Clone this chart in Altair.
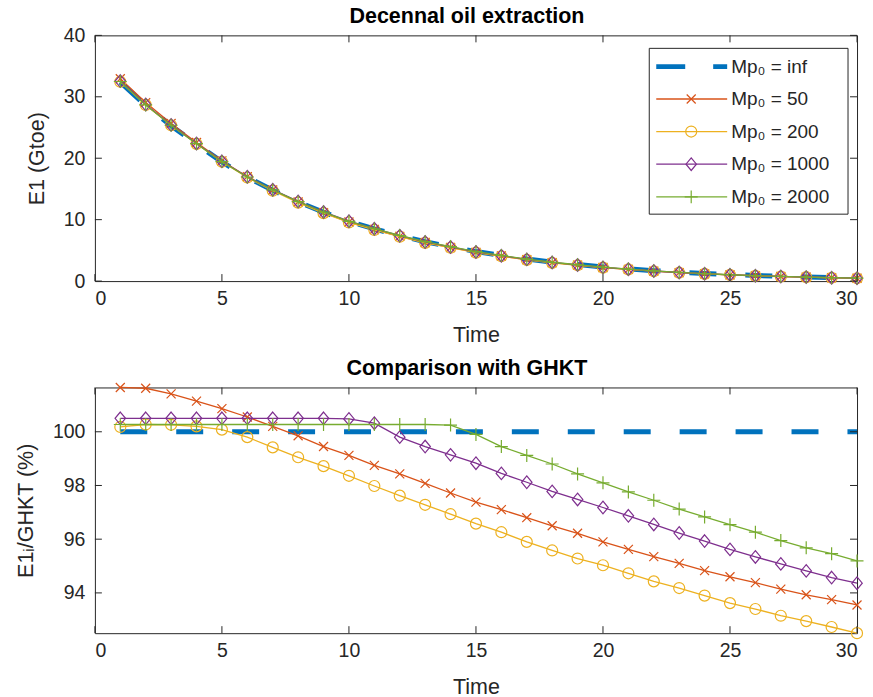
import altair as alt
import pandas as pd

# ---------------- data ----------------
time = list(range(1, 31))

# GHKT reference extraction (Mp0 = inf), Gtoe per decade
e1_ghkt = [32.4, 28.6, 25.3, 22.3, 19.4, 16.9, 14.8, 12.9, 11.2, 9.7,
           8.5, 7.4, 6.4, 5.6, 4.8, 4.2, 3.6, 3.1, 2.7, 2.3,
           2.0, 1.7, 1.45, 1.25, 1.07, 0.92, 0.79, 0.68, 0.58, 0.5]

# ratio to GHKT (%)
ratio_inf = [100.0] * 30
ratio_50 = [101.65, 101.62, 101.41, 101.14, 100.86, 100.55, 100.2, 99.85, 99.45, 99.12,
            98.75, 98.43, 98.08, 97.72, 97.38, 97.1, 96.8, 96.5, 96.22, 95.9,
            95.62, 95.35, 95.1, 94.83, 94.6, 94.38, 94.14, 93.93, 93.75, 93.55]
ratio_200 = [100.18, 100.27, 100.26, 100.2, 100.08, 99.8, 99.42, 99.05, 98.72, 98.36,
             97.98, 97.62, 97.28, 96.93, 96.58, 96.26, 95.9, 95.58, 95.28, 95.03,
             94.73, 94.43, 94.18, 93.9, 93.62, 93.4, 93.15, 92.95, 92.73, 92.5]
ratio_1000 = [100.5, 100.5, 100.5, 100.5, 100.5, 100.5, 100.5, 100.5, 100.5, 100.48,
              100.32, 99.8, 99.45, 99.14, 98.83, 98.45, 98.12, 97.78, 97.48, 97.18,
              96.87, 96.55, 96.23, 95.93, 95.62, 95.34, 95.08, 94.82, 94.57, 94.36]
ratio_2000 = [100.27, 100.27, 100.27, 100.27, 100.27, 100.27, 100.27, 100.27, 100.27, 100.27,
              100.27, 100.27, 100.27, 100.25, 99.9, 99.45, 99.12, 98.8, 98.43, 98.1,
              97.76, 97.45, 97.12, 96.83, 96.54, 96.26, 95.95, 95.68, 95.46, 95.19]

series_names = ["inf", "50", "200", "1000", "2000"]
series_labels = ["Mp\u2080 = inf", "Mp\u2080 = 50", "Mp\u2080 = 200", "Mp\u2080 = 1000", "Mp\u2080 = 2000"]
series_ratios = [ratio_inf, ratio_50, ratio_200, ratio_1000, ratio_2000]

x_ticks = [0, 5, 10, 15, 20, 25, 30]
y1_ticks = [0, 10, 20, 30, 40]
y2_ticks = [94, 96, 98, 100]

# ---------------- styles ----------------
colors = ["#0072BD", "#D95319", "#EDB120", "#7E2F8E", "#77AC30"]
shapes = [None, "M-1,-1L1,1M-1,1L1,-1", "circle", "M0,-1.2L1,0L0,1.2L-1,0Z", "M0,-1L0,1M-1,0L1,0"]
msizes = [0, 81, 121, 110, 169]
FONT = "Liberation Sans"
AX = "#262626"
W, H = 763, 246
TICK_FS = 19.5
LAB_FS = 21.5
TITLE_FS = 21.5
TL = 7  # tick length (inward)

rows = []
for name, ratios in zip(series_names, series_ratios):
    for ti, g, r in zip(time, e1_ghkt, ratios):
        rows.append({"t": ti, "series": name, "E1": g * r / 100.0, "ratio": r})
df = pd.DataFrame(rows)
dummy = pd.DataFrame({"a": [0]})
xtick_df = pd.DataFrame({"t": x_ticks})

xscale = alt.Scale(domain=[0, 30], nice=False, zero=False)


def series_layers(field, yscale, yaxis, xaxis):
    layers = []
    for i, name in enumerate(series_names):
        d = df[df.series == name]
        if i == 0:
            m = alt.Chart(d).mark_line(color=colors[0], strokeWidth=5, strokeDash=[27, 29])
            layers.append(m.encode(
                x=alt.X("t:Q", scale=xscale, axis=xaxis),
                y=alt.Y(f"{field}:Q", scale=yscale, axis=yaxis),
            ))
        else:
            m = alt.Chart(d).mark_line(color=colors[i], strokeWidth=1.3)
            layers.append(m.encode(x=alt.X("t:Q", scale=xscale),
                                   y=alt.Y(f"{field}:Q", scale=yscale)))
            p = alt.Chart(d).mark_point(shape=shapes[i], size=msizes[i], filled=False,
                                        color=colors[i], strokeWidth=1.2, opacity=1)
            layers.append(p.encode(x=alt.X("t:Q", scale=xscale),
                                   y=alt.Y(f"{field}:Q", scale=yscale)))
    return layers


def tick_layers(field, yscale, yvals):
    ytick_df = pd.DataFrame({field: yvals})
    out = []
    for y0, y1 in [(H, H - TL), (0, TL)]:
        out.append(alt.Chart(xtick_df).mark_rule(color=AX, strokeWidth=1).encode(
            x=alt.X("t:Q", scale=xscale), y=alt.value(y0), y2=alt.value(y1)))
    for x0, x1 in [(0, TL), (W, W - TL)]:
        out.append(alt.Chart(ytick_df).mark_rule(color=AX, strokeWidth=1).encode(
            y=alt.Y(f"{field}:Q", scale=yscale), x=alt.value(x0), x2=alt.value(x1)))
    return out


def main_axes(title_y, yvals):
    xaxis = alt.Axis(values=x_ticks, tickSize=0, domain=False, grid=False, title="Time",
                     labelFontSize=TICK_FS, labelFont=FONT, labelColor=AX, labelPadding=8,
                     titleFontSize=LAB_FS, titleFont=FONT, titleColor=AX, titleFontWeight="normal",
                     titlePadding=16.5)
    yaxis = alt.Axis(values=yvals, tickSize=0, domain=False, grid=False, title=title_y,
                     labelFontSize=TICK_FS, labelFont=FONT, labelColor=AX, labelPadding=10,
                     titleFontSize=LAB_FS, titleFont=FONT, titleColor=AX, titleFontWeight="normal",
                     titlePadding=15)
    return xaxis, yaxis


# ---------------- top panel ----------------
y1scale = alt.Scale(domain=[0, 40], nice=False, zero=False)
xa1, ya1 = main_axes("E1 (Gtoe)", y1_ticks)
top_layers = series_layers("E1", y1scale, ya1, xa1) + tick_layers("E1", y1scale, y1_ticks)

# legend (drawn inside the top panel)
LBX0, LBX1, LBY0, LBY1 = 555, 754, 13, 179
leg_rows = [31.3, 63.7, 96.3, 129.0, 161.7]
leg_layers = [alt.Chart(dummy).mark_rect(fill="white", stroke=AX, strokeWidth=1).encode(
    x=alt.value(LBX0), x2=alt.value(LBX1), y=alt.value(LBY0), y2=alt.value(LBY1))]
for i, ly in enumerate(leg_rows):
    if i == 0:
        ln = alt.Chart(dummy).mark_rule(color=colors[0], strokeWidth=5, strokeDash=[29, 28])
    else:
        ln = alt.Chart(dummy).mark_rule(color=colors[i], strokeWidth=1.3)
    leg_layers.append(ln.encode(x=alt.value(562), x2=alt.value(633), y=alt.value(ly)))
    if i > 0:
        leg_layers.append(alt.Chart(dummy).mark_point(shape=shapes[i], size=msizes[i], filled=False,
                                                      color=colors[i], strokeWidth=1.2, opacity=1)
                          .encode(x=alt.value(597), y=alt.value(ly)))
    leg_layers.append(alt.Chart(dummy).mark_text(align="left", baseline="middle", fontSize=19,
                                                 font=FONT, color=AX)
                      .encode(x=alt.value(637), y=alt.value(ly), text=alt.value(series_labels[i])))

top = alt.layer(*(top_layers + leg_layers)).properties(
    width=W, height=H,
    title=alt.TitleParams("Decennal oil extraction", fontSize=TITLE_FS, fontWeight="bold", font=FONT,
                          color="black", anchor="middle", offset=-2, dx=-9),
)

# ---------------- bottom panel ----------------
y2scale = alt.Scale(domain=[92.5, 101.65], nice=False, zero=False)
xa2, ya2 = main_axes("E1\u1d62/GHKT (%)", y2_ticks)
bot_layers = series_layers("ratio", y2scale, ya2, xa2) + tick_layers("ratio", y2scale, y2_ticks)
bottom = alt.layer(*bot_layers).properties(
    width=W, height=H,
    title=alt.TitleParams("Comparison with GHKT", fontSize=TITLE_FS, fontWeight="bold", font=FONT,
                          color="black", anchor="middle", offset=1, dx=-9),
)

chart = alt.vconcat(top, bottom, spacing=11.5).properties(
    padding={"left": 14, "top": 5, "right": 5, "bottom": 5},
    background="white",
).configure_view(stroke=AX, strokeWidth=1)

chart.save("out.html", embed_options={"renderer": "svg", "actions": False})
